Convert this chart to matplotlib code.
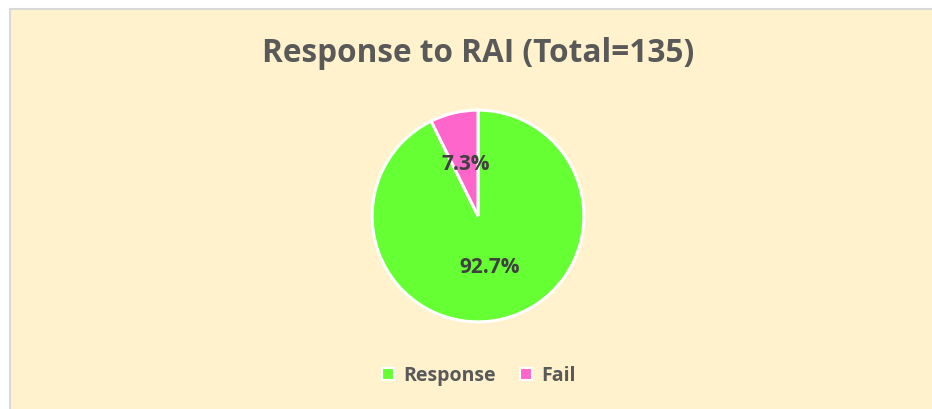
import matplotlib.pyplot as plt
from matplotlib.patches import Rectangle
from matplotlib.lines import Line2D

labels = ['Response', 'Fail']
values = [92.7, 7.3]
colors = ['#66FF33', '#FF66CC']
title = 'Response to RAI (Total=135)'

W, H = 932, 409
fig = plt.figure(figsize=(W / 100, H / 100), dpi=100)
fig.patch.set_facecolor('white')

# fond de la zone du graphique avec bordure grise (bords droit/bas hors image)
fig.patches.append(Rectangle((10 / W, -0.05), 1.1, (H - 9) / H + 0.05, transform=fig.transFigure,
                             facecolor='#FFF2CC', edgecolor='#D9D9D9', linewidth=1.5, zorder=-1))

cx, cy, r = 478, 216, 108
ax = fig.add_axes([(cx - r) / W, (H - cy - r) / H, 2 * r / W, 2 * r / H])
ax.set_zorder(2)
ax.set_facecolor('none')
wedges, texts, autotexts = ax.pie(values, colors=colors, startangle=90, counterclock=False,
                                  autopct='%1.1f%%', pctdistance=0.5, radius=1,
                                  wedgeprops=dict(edgecolor='white', linewidth=2.2),
                                  textprops=dict(color='#404040', fontsize=15,
                                                 fontweight='bold', family='Open Sans'))
ax.set_xlim(-1.02, 1.02)
ax.set_ylim(-1.02, 1.02)
ax.axis('off')

fig.text(cx / W, 1 - 53 / H, title, ha='center', va='center', fontsize=22.7,
         fontweight='bold', color='#595959', family='Open Sans')

handles = [Line2D([], [], marker='s', linestyle='None', markersize=8, markerfacecolor=c,
                  markeredgecolor='white', markeredgewidth=1.5) for c in colors]
leg = fig.legend(handles, labels, loc='center', bbox_to_anchor=(cx / W, 1 - 376 / H),
                 ncol=2, frameon=False, handlelength=0.8, handletextpad=0.4, columnspacing=1.1,
                 prop=dict(size=14, weight='bold', family='Open Sans'))
for t in leg.get_texts():
    t.set_color('#595959')

fig.savefig('out.png', dpi=100)
